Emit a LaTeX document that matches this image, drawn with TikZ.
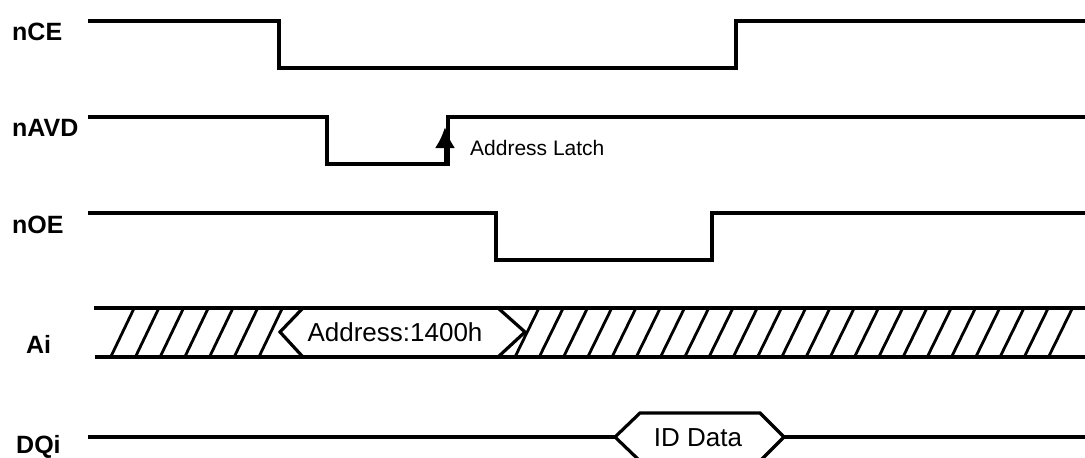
\documentclass[tikz,border=0pt]{standalone}
\usepackage{fontspec}
\setmainfont{Liberation Sans}
\usepackage{tikz}
\usetikzlibrary{arrows.meta,calc}

\begin{document}
\begin{tikzpicture}[x=1pt,y=-1pt]
\tikzset{sig/.style={line width=3.2pt},
  hatch/.style={line width=2.8pt},
  lbl/.style={anchor=base west, inner sep=0pt, font=\fontsize{25}{30}\selectfont\bfseries},
  bustext/.style={inner sep=0pt, font=\fontsize{26}{30}\selectfont}}
\useasboundingbox (0,0) rectangle (1085,458);

% signal names
\node[lbl] (nCE) at (12,40) {nCE};
\node[lbl] (nAVD) at (12,136) {nAVD};
\node[lbl] (nOE) at (12,233) {nOE};
\node[lbl] (Ai) at (26,353) {Ai};
\node[lbl] (DQi) at (16,453) {DQi};

% nCE
\coordinate (CE0) at (88,21) ;
\coordinate (CE1) at (279,21) ;
\coordinate (CE2) at (279,68) ;
\coordinate (CE3) at (736,68) ;
\coordinate (CE4) at (736,21) ;
\coordinate (CE5) at (1085,21) ;
\draw [sig](CE0)--(CE1)--(CE2)--(CE3)--(CE4)--(CE5);

% nAVD
\coordinate (AV0) at (88,117) ;
\coordinate (AV1) at (327,117) ;
\coordinate (AV2) at (327,164) ;
\coordinate (AV3) at (448,164) ;
\coordinate (AV4) at (448,117) ;
\coordinate (AV5) at (1085,117) ;
\draw [sig](AV0)--(AV1)--(AV2)--(AV3)--(AV4)--(AV5);
\coordinate (latch0) at (445,164) ;
\coordinate (latch1) at (445,127) ;
\draw [line width=3pt,-{Latex[length=21pt,width=20pt]}](latch0)--(latch1);
\node[anchor=base west, inner sep=0pt, font=\fontsize{21}{25}\selectfont] (latch) at (470,155) {Address Latch};

% nOE
\coordinate (OE0) at (88,213) ;
\coordinate (OE1) at (496,213) ;
\coordinate (OE2) at (496,260) ;
\coordinate (OE3) at (712,260) ;
\coordinate (OE4) at (712,213) ;
\coordinate (OE5) at (1085,213) ;
\draw [sig](OE0)--(OE1)--(OE2)--(OE3)--(OE4)--(OE5);

% Ai bus
\coordinate (AT0) at (94,308) ;
\coordinate (AT1) at (1085,308) ;
\coordinate (AB0) at (95,357) ;
\coordinate (AB1) at (1085,357) ;
\draw [sig](AT0)--(AT1);
\draw [sig](AB0)--(AB1);
\coordinate (AL) at (280,332) ;
\coordinate (AR) at (525,332) ;
\draw [sig](303,308)--(AL)--(303,357);
\draw [sig](498,308)--(AR)--(498,357);
\node[bustext] (addr) at (395,332) {Address:1400h};
\foreach \i in {0,...,6}
  \draw [hatch] ({110.7+24.7*\i},357)--({134.2+24.7*\i},308);
\foreach \i in {0,...,22}
  \draw [hatch] ({515+24.25*\i},357)--({539+24.25*\i},308);

% DQi
\coordinate (DQ0) at (88,437) ;
\coordinate (DL) at (615,437) ;
\coordinate (DR) at (784,437) ;
\coordinate (DQ1) at (1085,437) ;
\draw [sig](DQ0)--(DL);
\draw [sig](DR)--(DQ1);
\draw [sig](DL)--(640,413)--(760,413)--(DR)--(760,461)--(640,461)--cycle;
\node[bustext, anchor=base] (iddata) at (698,446) {ID Data};
\end{tikzpicture}
\end{document}
